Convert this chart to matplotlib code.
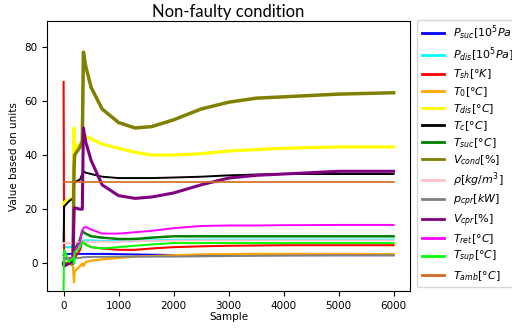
import matplotlib
matplotlib.use("Agg")
import matplotlib.pyplot as plt

# sample positions shared by every signal
sample = [0, 10, 100, 170, 190, 200, 300, 340, 360, 400, 500, 700,
          1000, 1300, 1600, 2000, 2500, 3000, 3500, 4000, 5000, 6000]

p_suc = [3, 3.5, 3.5, 3.5, 3.5, 3.5, 3.5, 3.5, 3.5, 3.5, 3.5, 3.5,
         3.4, 3.3, 3.2, 3.1, 3.0, 3.0, 3.0, 3.0, 3.0, 3.0]
p_dis = [6, 6, 6, 6, 6, 6, 7, 8, 8.5, 8.5, 8.5, 8.3,
         8.3, 8.4, 8.5, 8.7, 8.8, 8.8, 8.8, 8.8, 8.8, 8.8]
t_sh = [67, -1, 0, 1, 2, 2, 5, 8, 8, 7, 6, 5.5,
        5, 5, 5.5, 6, 6.3, 6.5, 6.6, 6.7, 6.7, 6.7]
t_0 = [-1, -1, 0, -1, -7, -3, -1, 0, -1, 0.5, 1, 1.5,
       2, 2.5, 2.7, 3, 3.3, 3.4, 3.5, 3.5, 3.5, 3.4]
t_dis = [22, 22.5, 23.5, 24, 50, 42, 44, 46, 47, 47, 46, 44,
         42.5, 41, 40, 40, 40.5, 41.5, 42, 42.5, 43, 43]
t_c = [8, 21, 23, 24, 29, 30, 31, 33, 34, 33.5, 33, 32,
       31.5, 31.5, 31.5, 31.7, 32, 32.5, 32.8, 33, 33, 33]
t_suc = [0, 0, 0, 0.5, 1, 5, 9, 12, 11.5, 11, 10, 9.5,
         9, 9, 9.5, 10, 10, 10, 10, 10, 10, 10]
v_cond = [0, 0, 0, 0, 35, 40, 43, 45, 78, 73, 65, 57,
          52, 50, 50.5, 53, 57, 59.5, 61, 61.5, 62.5, 63]
rho = [7.5, 7.5, 7.5, 7.7, 7.8, 7.8, 8, 8, 8, 8, 8, 8,
       8, 8.2, 8.3, 8.4, 8.5, 8.5, 8.5, 8.5, 8.5, 8.5]
p_cpr = [1, 1.5, 1.5, 1.5, 1.8, 2, 2, 2.2, 2.3, 2.3, 2.4, 2.4,
         2.5, 2.5, 2.5, 2.5, 2.6, 2.7, 2.8, 2.9, 3, 3]
v_cpr = [0, -1, 0, 1, 20, 20.5, 20, 20, 50, 45, 38, 29,
         25, 24, 24.5, 26, 29, 31.5, 32.5, 33, 34, 34]
t_ret = [2, 2, 2, 2, 3, 4, 8, 12, 13, 13.5, 12.5, 11,
         11, 11.5, 12, 13, 13.8, 14, 14, 14.1, 14.2, 14.2]
t_sup = [-10, 5, 0.5, 2, 0, 4, 6, 8, 7.5, 7, 6, 5.5,
         6, 6.5, 7, 7.5, 7.5, 7.5, 7.5, 7.5, 7.5, 7.5]
t_amb = [30] * len(sample)

series = [
    (p_suc, r'$P_{suc}[10^5Pa]$', 'blue', 1.4),
    (p_dis, r'$P_{dis}[10^5Pa]$', 'cyan', 1.4),
    (t_sh, r'$T_{sh}[°K]$', 'red', 1.5),
    (t_0, r'$T_0[°C]$', 'orange', 1.6),
    (t_dis, r'$T_{dis}[°C]$', 'yellow', 2.3),
    (t_c, r'$T_c[°C]$', 'black', 1.4),
    (t_suc, r'$T_{suc}[°C]$', 'green', 1.8),
    (v_cond, r'$V_{cond}[\%]$', 'olive', 2.5),
    (rho, r'$\rho[kg/m^3]$', 'pink', 1.4),
    (p_cpr, r'$p_{cpr}[kW]$', 'gray', 1.4),
    (v_cpr, r'$V_{cpr}[\%]$', 'purple', 2.2),
    (t_ret, r'$T_{ret}[°C]$', 'magenta', 1.4),
    (t_sup, r'$T_{sup}[°C]$', 'lime', 1.4),
    (t_amb, r'$T_{amb}[°C]$', 'chocolate', 1.2),
]

fig = plt.figure(figsize=(5.12, 3.28), dpi=100)
ax = fig.add_axes([0.092, 0.112, 0.709, 0.824])

for vals, label, color, lw in series:
    ax.plot(sample, vals, color=color, linewidth=lw, label=label)

ax.set_xlim(-300, 6300)
ax.set_ylim(-10.3, 89.5)
ax.set_xticks([0, 1000, 2000, 3000, 4000, 5000, 6000])
ax.set_yticks([0, 20, 40, 60, 80])
ax.tick_params(labelsize=7.5)
ax.set_xlabel('Sample', fontsize=7.5, labelpad=1)
ax.set_ylabel('Value based on units', fontsize=7.5)
ax.set_title('Non-faulty condition', fontsize=12, family='Lato', pad=3)

leg = ax.legend(loc='upper left', bbox_to_anchor=(1.02, 1.005), fontsize=8,
                handlelength=2.0, labelspacing=0.3, borderaxespad=0)
for line in leg.get_lines():
    line.set_linewidth(2)

fig.savefig('out.png', dpi=100)
